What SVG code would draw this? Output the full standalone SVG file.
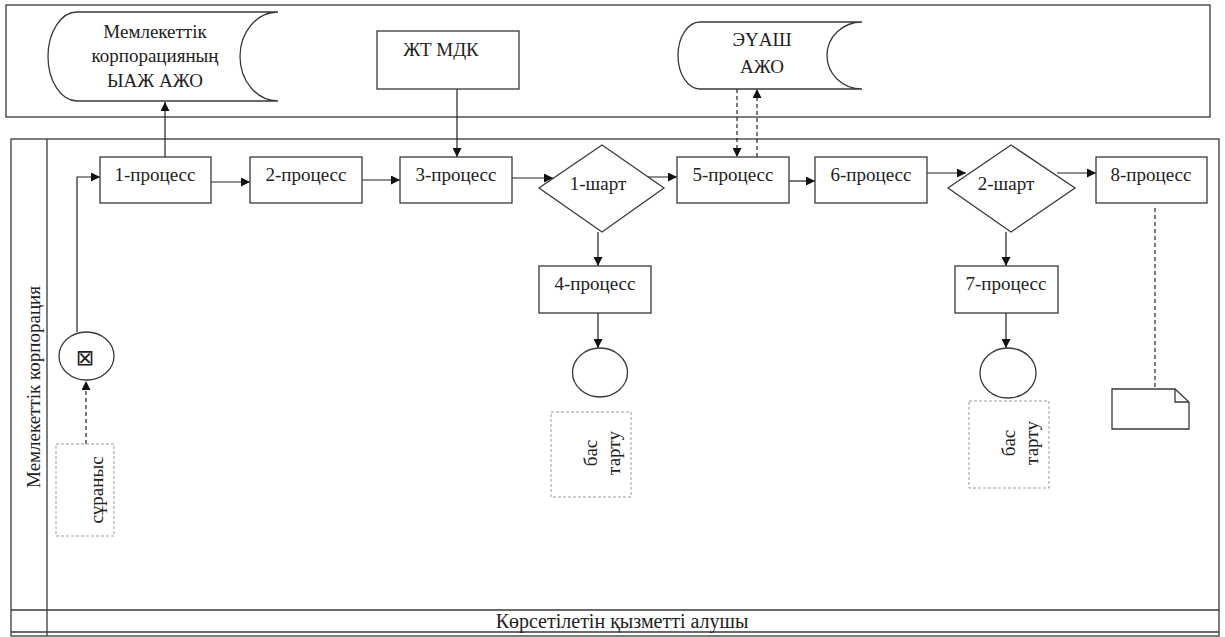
<svg xmlns="http://www.w3.org/2000/svg" width="1225" height="637" viewBox="0 0 1225 637">
<style>
.s{fill:none;stroke:#3a3a3a;stroke-width:1.3}
.b{fill:#fff;stroke:#3a3a3a;stroke-width:1.3}
.t{font-size:19px;fill:#222;text-anchor:middle}
.c{fill:none;stroke:#222;stroke-width:1.2}
.d{fill:none;stroke:#222;stroke-width:1.2;stroke-dasharray:4,3}
.dl{fill:#fff;stroke:#999;stroke-width:1;stroke-dasharray:3,2}
</style>
<defs>
<marker id="a" viewBox="0 0 10 10" refX="10" refY="5" markerWidth="9" markerHeight="9" markerUnits="userSpaceOnUse" orient="auto">
<path d="M0,0 L10,5 L0,10 Z" fill="#111"/>
</marker>
</defs>
<rect width="1225" height="637" fill="#fff"/>
<g font-family="Liberation Serif, Times New Roman, serif">
<g id="pools">
<rect class="s" x="6" y="5" width="1204" height="112"/>
<rect class="s" x="11" y="139" width="1208" height="497"/>
<line class="s" x1="47" y1="139" x2="47" y2="636"/>
<line class="s" x1="11" y1="610" x2="1219" y2="610"/>
<line class="s" x1="11" y1="632" x2="1219" y2="632"/>
<text class="t" transform="translate(40,387) rotate(-90)">Мемлекеттік корпорация</text>
<text class="t" x="622" y="628" style="font-size:20px">Көрсетілетін қызметті алушы</text>
</g>
<g id="connectors">
<line class="c" x1="165" y1="157" x2="165" y2="102" marker-end="url(#a)"/>
<line class="c" x1="457" y1="89" x2="457" y2="157" marker-end="url(#a)"/>
<line class="d" x1="737" y1="89" x2="737" y2="157" marker-end="url(#a)"/>
<line class="d" x1="757" y1="157" x2="757" y2="89" marker-end="url(#a)"/>
<polyline class="c" points="77,332 77,177 100,177" marker-end="url(#a)"/>
<line class="d" x1="86" y1="444" x2="86" y2="381" marker-end="url(#a)"/>
<line class="c" x1="211" y1="182" x2="250" y2="182" marker-end="url(#a)"/>
<line class="c" x1="362" y1="180" x2="400" y2="180" marker-end="url(#a)"/>
<line class="c" x1="512" y1="178" x2="553" y2="178" marker-end="url(#a)"/>
<line class="c" x1="638" y1="177" x2="677" y2="177" marker-end="url(#a)"/>
<line class="c" x1="789" y1="181" x2="815" y2="181" marker-end="url(#a)"/>
<line class="c" x1="927" y1="173" x2="966" y2="173" marker-end="url(#a)"/>
<line class="c" x1="1057" y1="173" x2="1096" y2="173" marker-end="url(#a)"/>
<line class="c" x1="598" y1="232" x2="598" y2="266" marker-end="url(#a)"/>
<line class="c" x1="598" y1="313" x2="598" y2="348" marker-end="url(#a)"/>
<line class="c" x1="1006" y1="232" x2="1006" y2="266" marker-end="url(#a)"/>
<line class="c" x1="1006" y1="313" x2="1006" y2="348" marker-end="url(#a)"/>
<line class="d" x1="1155" y1="208" x2="1155" y2="389"/>
</g>
<g id="n-db1">
<path class="b" d="M77,12 L278,12 A38,44.5 0 0 0 278,101 L77,101 A29,44.5 0 0 1 77,12 Z"/>
<text class="t" x="155" y="38">Мемлекеттік</text>
<text class="t" x="155" y="62">корпорацияның</text>
<text class="t" x="155" y="87">ЫАЖ АЖО</text>
</g>
<g id="n-zht">
<rect class="b" x="377" y="31" width="142" height="58"/>
<text class="t" x="441" y="56">ЖТ МДК</text>
</g>
<g id="n-db2">
<path class="b" d="M700,22 L862,22 A35,33.5 0 0 0 862,89 L700,89 A22,33.5 0 0 1 700,22 Z"/>
<text class="t" x="762" y="46">ЭҮАШ</text>
<text class="t" x="762" y="73">АЖО</text>
</g>
<g id="n-start">
<ellipse class="b" cx="86.5" cy="356" rx="27.5" ry="24"/>
<text x="85" y="365" font-family="DejaVu Sans,sans-serif" font-size="22" text-anchor="middle" fill="#222">⊠</text>
</g>
<g id="n-request">
<rect class="dl" x="56" y="444" width="58" height="92"/>
<text class="t" transform="translate(103,490) rotate(-90)">сұраныс</text>
</g>
<g id="n-p1"><rect class="b" x="100" y="157" width="111" height="46"/><text class="t" x="155" y="181">1-процесс</text></g>
<g id="n-p2"><rect class="b" x="250" y="157" width="112" height="46"/><text class="t" x="306" y="181">2-процесс</text></g>
<g id="n-p3"><rect class="b" x="400" y="157" width="112" height="46"/><text class="t" x="456" y="181">3-процесс</text></g>
<g id="n-g1"><path class="b" d="M602,145 L664,188 L602,232 L539,188 Z"/><text class="t" x="598" y="190">1-шарт</text></g>
<g id="n-p5"><rect class="b" x="677" y="157" width="112" height="46"/><text class="t" x="733" y="181">5-процесс</text></g>
<g id="n-p6"><rect class="b" x="815" y="157" width="112" height="46"/><text class="t" x="871" y="181">6-процесс</text></g>
<g id="n-g2"><path class="b" d="M1011,145 L1075,188 L1011,232 L948,188 Z"/><text class="t" x="1006" y="190">2-шарт</text></g>
<g id="n-p8"><rect class="b" x="1096" y="157" width="111" height="46"/><text class="t" x="1151" y="181">8-процесс</text></g>
<g id="n-p4"><rect class="b" x="539" y="266" width="112" height="47"/><text class="t" x="595" y="290">4-процесс</text></g>
<g id="n-p7"><rect class="b" x="955" y="266" width="103" height="47"/><text class="t" x="1006" y="290">7-процесс</text></g>
<g id="n-end1"><ellipse class="b" cx="600" cy="372.5" rx="27.5" ry="24.5"/></g>
<g id="n-end2"><ellipse class="b" cx="1008" cy="373" rx="28" ry="25"/></g>
<g id="n-rej1">
<rect class="dl" x="551" y="412" width="80" height="85"/>
<text class="t" transform="translate(597,453) rotate(-90)">бас</text>
<text class="t" transform="translate(620,453) rotate(-90)">тарту</text>
</g>
<g id="n-rej2">
<rect class="dl" x="969" y="401" width="80" height="87"/>
<text class="t" transform="translate(1015,443) rotate(-90)">бас</text>
<text class="t" transform="translate(1038,443) rotate(-90)">тарту</text>
</g>
<g id="n-doc">
<path class="b" d="M1112,389 L1175,389 L1189,402 L1189,429 L1112,429 Z"/>
<polyline class="s" points="1175,389 1175,402 1189,402"/>
</g>
</g>
</svg>
